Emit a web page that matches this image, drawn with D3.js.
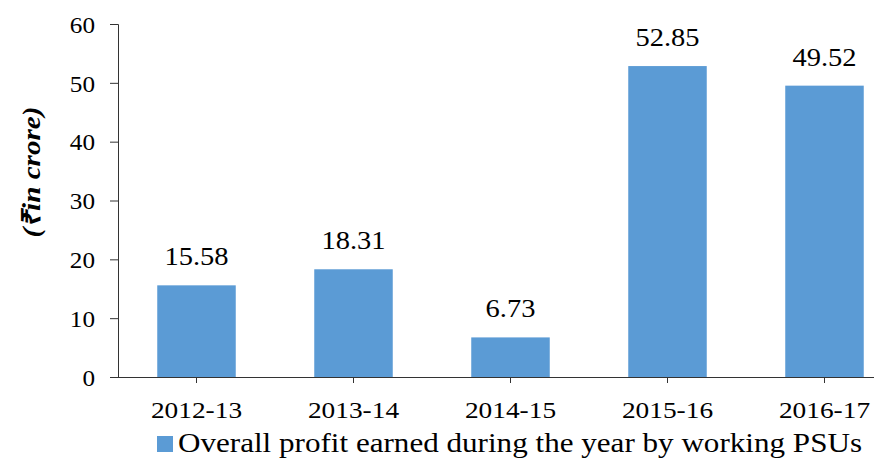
<!DOCTYPE html>
<html><head><meta charset="utf-8">
<script src="https://cdn.jsdelivr.net/npm/d3@7"></script>
<style>body{margin:0;background:#fff}svg{display:block}</style>
</head><body>
<script>
const categories = ["2012-13","2013-14","2014-15","2015-16","2016-17"];
const values = [15.58, 18.31, 6.73, 52.85, 49.52];
const valueLabels = ["15.58","18.31","6.73","52.85","49.52"];
const yTicks = [0,10,20,30,40,50,60];
const seriesName = "Overall profit earned during the year by working PSUs";
const yTitle = "(₹in crore)";

const W = 874, H = 459;
const FF = '"Liberation Serif"';
const svg = d3.select("body").append("svg").attr("width", W).attr("height", H);

const x = d3.scaleBand().domain(categories).range([118, 118 + 5*157]).paddingInner(0.5).paddingOuter(0.25);
const y = d3.scaleLinear().domain([0, 60]).range([377, 24]);
const sx = 1.14;

// bars
svg.selectAll("rect.bar").data(values).join("rect").attr("class","bar")
  .attr("x",(d,i)=>x(categories[i])).attr("width",x.bandwidth())
  .attr("y",d=>y(d)).attr("height",d=>y(0)-y(d)).attr("fill","#5b9bd5");

// value labels
svg.selectAll("text.val").data(values).join("text").attr("class","val")
  .attr("transform",(d,i)=>`translate(${x(categories[i])+x.bandwidth()/2},${y(d)-20}) scale(${sx},1)`)
  .attr("text-anchor","middle").style("font-family",FF).style("font-size","25px").attr("fill","#000")
  .text((d,i)=>valueLabels[i]);

// y axis
const yAxis = svg.append("g").attr("transform","translate(118,0)")
  .call(d3.axisLeft(y).tickValues(yTicks).tickSize(8).tickPadding(0).tickFormat(d3.format("d")));
yAxis.select(".domain").attr("stroke","#333").attr("d","M-8,24.5H0.5V377.5");
yAxis.selectAll(".tick line").attr("stroke","#333");
yAxis.selectAll(".tick text").style("font-family",FF).style("font-size","24px").attr("fill","#000")
  .attr("x",null).attr("dy","0.34em")
  .attr("transform",`translate(-23,0) scale(1.05,1)`).attr("text-anchor","end");

// x axis
const xAxis = svg.append("g").attr("transform","translate(0,377)")
  .call(d3.axisBottom(x).tickSize(6).tickSizeOuter(0));
xAxis.select(".domain").attr("stroke","#333").attr("d","M118,0.5H874");
xAxis.selectAll(".tick line").attr("stroke","#333");
xAxis.selectAll(".tick text").style("font-family",FF).style("font-size","24px").attr("fill","#000")
  .attr("y",null).attr("dy",null).attr("transform",`translate(0,41) scale(${sx},1)`);

// y title
svg.append("text").attr("transform","translate(40,172) rotate(-90)")
  .attr("x",-65.5).style("font-family",FF).style("font-size","26px")
  .attr("textLength",131).attr("lengthAdjust","spacingAndGlyphs")
  .style("font-weight","bold").style("font-style","italic").attr("fill","#000").text(yTitle);

// legend
svg.append("rect").attr("x",157).attr("y",436).attr("width",16).attr("height",16).attr("fill","#5b9bd5");
svg.append("text").attr("x",178).attr("y",452).style("font-family",FF).style("font-size","28px")
  .attr("fill","#000").attr("textLength",684).attr("lengthAdjust","spacingAndGlyphs").text(seriesName);
</script>
</body></html>
